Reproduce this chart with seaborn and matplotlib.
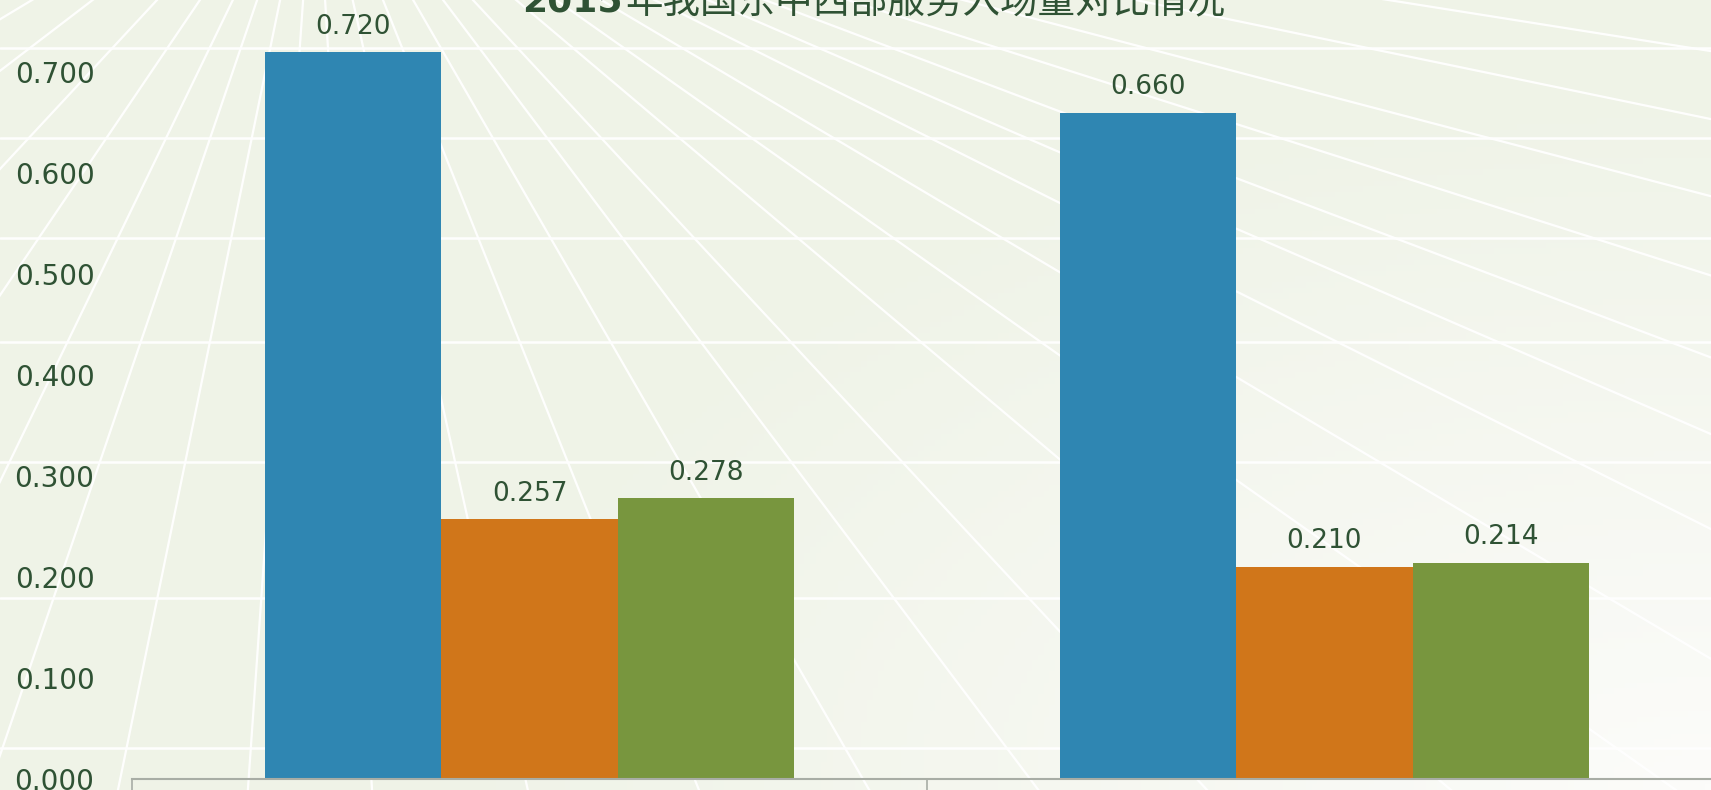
import numpy as np
import pandas as pd
import matplotlib
matplotlib.use('Agg')
import matplotlib.pyplot as plt
import seaborn as sns

# 数据
categories = ['类别一', '类别二']
regions = ['东部', '中部', '西部']
east = [0.720, 0.660]
central = [0.257, 0.210]
west = [0.278, 0.214]
yticks = [0.0, 0.1, 0.2, 0.3, 0.4, 0.5, 0.6, 0.7]
title_year = '2015'
title_rest = '年我国东中西部服务入场量对比情况'

colors = ['#2f86b2', '#d0761a', '#78963e']
text_color = '#2f5234'

df = pd.DataFrame({
    '类别': categories * 3,
    '地区': [r for r in regions for _ in categories],
    '值': east + central + west,
})

sns.set_theme(style='white')
plt.rcParams['font.family'] = ['DejaVu Sans', 'Noto Sans CJK SC']

W, H = 1711, 790
fig = plt.figure(figsize=(W / 100, H / 100), dpi=100)

# 背景：渐变 + 白色放射线（装饰）
bg = fig.add_axes([0, 0, 1, 1], zorder=0)
xx, yy = np.meshgrid(np.linspace(0, 1, 300), np.linspace(0, 1, 140))
d = np.sqrt(((1 - xx) * 1.2) ** 2 + ((1 - yy) * 1.0) ** 2)
t = np.clip(1 - d / 0.9, 0, 1)[..., None]
c0 = np.array([239, 243, 231]) / 255
c1 = np.array([252, 252, 250]) / 255
bg.imshow(c0 * (1 - t) + c1 * t, extent=[0, W, H, 0], aspect='auto')
vx, vy = 315, -170
ray_angles = [-80, -73, -66, -59, -52.6, -42.9, -34.1, -25.8, -18.8, -11.6, -4.0, 3.4,
              12.5, 21.8, 30, 37, 42.9, 49.8, 54.8, 59.3, 63.4, 66.6, 69.3, 72.3,
              75.3, 78.3, 81.0, 83.6, 86.0, 88.2]
for a in ray_angles:
    r = np.radians(a)
    L = 4000
    bg.plot([vx, vx + L * np.sin(r)], [vy, vy + L * np.cos(r)], color='white', lw=1.6, alpha=0.95)
for y in [48, 138, 238, 342, 462, 598, 748]:
    bg.plot([0, W], [y, y], color='white', lw=1.8, alpha=0.95)
bg.set_xlim(0, W)
bg.set_ylim(H, 0)
bg.axis('off')

# 主图
y0 = 778.5
ppu = 1008.6
ymax = 0.77
ax = fig.add_axes([132 / W, (H - y0) / H, 1590 / W, ymax * ppu / H], zorder=1)
ax.set_facecolor('none')
sns.barplot(data=df, x='类别', y='值', hue='地区', palette=colors, width=0.666,
            saturation=1, linewidth=0, legend=False, ax=ax)

for cont in ax.containers:
    ax.bar_label(cont, fmt='%.3f', padding=9, fontsize=19, color=text_color)

ax.set_xlim(-0.5, 1.5)
ax.set_ylim(0, ymax)
ax.set_yticks(yticks)
ax.set_yticklabels([f'{v:.3f}' for v in yticks], fontsize=20, color=text_color)
ax.tick_params(axis='y', length=0, pad=27)
ax.set_xticks([-0.5, 0.5, 1.5], minor=True)
ax.set_xticklabels([])
ax.tick_params(axis='x', which='major', length=0)
ax.tick_params(axis='x', which='minor', length=12, width=1.2, color='#a8ada5', direction='out', bottom=True)
ax.set_xlabel('')
ax.set_ylabel('')
ax.grid(False)
for s in ['left', 'right', 'top']:
    ax.spines[s].set_visible(False)
ax.spines['bottom'].set_color('#a8ada5')
ax.spines['bottom'].set_linewidth(1.5)

# 标题
fig.text(623 / W, 1 - 12 / H, title_year, ha='right', va='baseline', fontsize=26,
         fontweight='bold', color=text_color, family='DejaVu Sans')
fig.text(625 / W, 1 - 12 / H, title_rest, ha='left', va='baseline', fontsize=27,
         color=text_color, family=['Noto Sans CJK SC', 'DejaVu Sans'])

fig.savefig('out.png', dpi=100)
